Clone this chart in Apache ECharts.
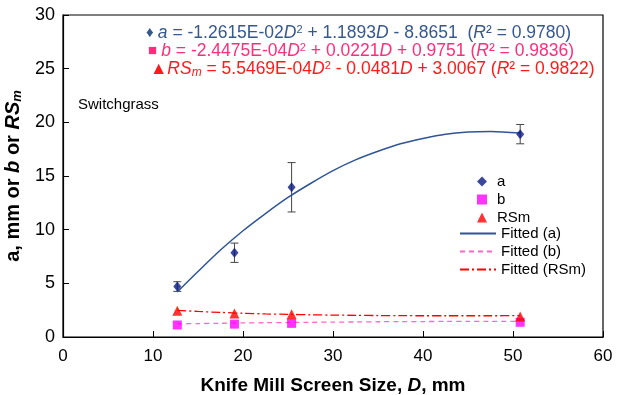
<!DOCTYPE html>
<html>
<head>
<meta charset="utf-8">
<script src="https://cdn.jsdelivr.net/npm/echarts@6/dist/echarts.min.js"></script>
<style>
  html, body { margin: 0; padding: 0; background: #fff; }
  #chart { width: 622px; height: 395px; }
</style>
</head>
<body>
<div id="chart"></div>
<script>
// screen sizes, mm
var screenD = [12.7, 19.05, 25.4, 50.8];
// measured values
var aVals = [4.7, 7.85, 13.95, 18.9];
var aErr = [0.45, 0.9, 2.3, 0.9];
var bVals = [1.12, 1.2, 1.27, 1.37];
var rsVals = [2.45, 2.2, 2.12, 1.9];

// fitted curves
var fitD = [12.7, 15, 17.5, 20, 22.5, 25, 27.5, 30, 32.5, 35, 37.5, 40, 42.5, 45, 47.5, 50.8];
var fitA = [4.2, 6.1, 8.1, 9.9, 11.5, 13.0, 14.3, 15.5, 16.5, 17.3, 18.0, 18.5, 18.9, 19.1, 19.15, 19.0];
var fitB = [1.22, 1.25, 1.28, 1.31, 1.33, 1.35, 1.37, 1.39, 1.40, 1.42, 1.43, 1.44, 1.45, 1.46, 1.46, 1.46];
var fitRS = [2.49, 2.38, 2.29, 2.21, 2.15, 2.11, 2.07, 2.04, 2.02, 2.00, 1.99, 1.98, 1.98, 1.98, 1.98, 1.99];

function pairs(xs, ys) {
  var out = [];
  for (var i = 0; i < xs.length; i++) out.push([xs[i], ys[i]]);
  return out;
}

var errData = [];
for (var i = 0; i < screenD.length; i++) {
  errData.push([screenD[i], aVals[i] - aErr[i], aVals[i] + aErr[i]]);
}

var chart = echarts.init(document.getElementById('chart'));

var eqFont = 17.5;
function eqRich(col) {
  return {
    n: { fontSize: eqFont, fill: col },
    i: { fontSize: eqFont, fill: col, fontStyle: 'italic' },
    m: { fontSize: 12, fill: col, fontStyle: 'italic', verticalAlign: 'bottom', padding: [7, 0, 0, 0] },
    s: { fontSize: 11, fill: col, verticalAlign: 'top', padding: [0, 0, 7, 0] },
    sq: { fontSize: 15, fill: col }
  };
}

var option = {
  animation: false,
  textStyle: { fontFamily: 'Liberation Sans, Arial, sans-serif' },
  grid: {
    left: 63, right: 19, top: 15, bottom: 58, outerBoundsMode: 'none', containLabel: false,
    show: true, borderColor: '#000', borderWidth: 1.2
  },
  xAxis: {
    type: 'value', min: 0, max: 60, interval: 10,
    axisLine: { lineStyle: { color: '#000', width: 1.2 } },
    axisTick: { inside: true, length: 6, lineStyle: { color: '#000' } },
    axisLabel: { color: '#000', fontSize: 17, margin: 11 },
    splitLine: { show: false },
    name: '{b|Knife Mill Screen Size, }{bi|D}{b|, mm}',
    nameLocation: 'middle', nameGap: 39,
    nameTextStyle: {
      rich: {
        b: { fontSize: 19, fontWeight: 'bold', color: '#000' },
        bi: { fontSize: 19, fontWeight: 'bold', fontStyle: 'italic', color: '#000' }
      }
    }
  },
  yAxis: {
    type: 'value', min: 0, max: 30, interval: 5,
    axisLine: { lineStyle: { color: '#000', width: 1.2 } },
    axisTick: { inside: true, length: 6, lineStyle: { color: '#000' } },
    axisLabel: { color: '#000', fontSize: 18, margin: 8 },
    splitLine: { show: false },
    name: '{b|a, mm or }{bi|b}{b| or }{bi|RS}{sub|m}',
    nameLocation: 'middle', nameGap: 38,
    nameTextStyle: {
      rich: {
        b: { fontSize: 20, fontWeight: 'bold', color: '#000' },
        bi: { fontSize: 20, fontWeight: 'bold', fontStyle: 'italic', color: '#000' },
        sub: { fontSize: 13, fontWeight: 'bold', fontStyle: 'italic', color: '#000', verticalAlign: 'bottom', padding: [9, 0, 0, 0] }
      }
    }
  },
  legend: [
    {
      orient: 'vertical', left: 472, top: 169,
      itemWidth: 10, itemHeight: 10, itemGap: 3,
      textStyle: { fontSize: 15, color: '#000', padding: [0, 0, 0, 5] },
      data: [
        { name: 'a', icon: 'diamond' },
        { name: 'b', icon: 'rect' },
        { name: 'RSm', icon: 'triangle' }
      ]
    },
    {
      orient: 'vertical', left: 454, top: 221,
      itemWidth: 36, itemHeight: 10, itemGap: 3,
      textStyle: { fontSize: 15, color: '#000' },
      data: [
        { name: 'Fitted (a)', itemStyle: { opacity: 0 } },
        { name: 'Fitted (b)', itemStyle: { opacity: 0 } },
        { name: 'Fitted (RSm)', itemStyle: { opacity: 0 } }
      ]
    }
  ],
  graphic: [
    {
      type: 'text', left: 146, top: 24,
      style: {
        text: '{sq|\u2666 }{i|a}{n| = -1.2615E-02}{i|D}{s|2}{n| + 1.1893}{i|D}{n| - 8.8651  (}{i|R}{n|\u00b2 = 0.9780)}',
        rich: eqRich('#35588f')
      }
    },
    {
      type: 'text', left: 148, top: 42,
      style: {
        text: '{sq|\u25a0 }{i|b}{n| = -2.4475E-04}{i|D}{s|2}{n| + 0.0221}{i|D}{n| + 0.9751 (}{i|R}{n|\u00b2 = 0.9836)}',
        rich: eqRich('#ff2d7a')
      }
    },
    {
      type: 'text', left: 150, top: 60,
      style: {
        text: '{n|\u25b2}{i|RS}{m|m}{n| = 5.5469E-04}{i|D}{s|2}{n| - 0.0481}{i|D}{n| + 3.0067 (}{i|R}{n|\u00b2 = 0.9822)}',
        rich: eqRich('#ff1a1a')
      }
    },
    {
      type: 'text', left: 78, top: 97,
      style: { text: 'Switchgrass', fontSize: 15, fill: '#000' }
    }
  ],
  series: [
    {
      name: 'Fitted (a)', type: 'line', data: pairs(fitD, fitA), smooth: 0.3,
      symbol: 'none', lineStyle: { color: '#2f5597', width: 1.5 }, itemStyle: { color: '#2f5597' }
    },
    {
      name: 'Fitted (b)', type: 'line', data: pairs(fitD, fitB), smooth: 0.3,
      symbol: 'none', lineStyle: { color: '#ff66cc', width: 1.3, type: [5, 4] }, itemStyle: { color: '#ff66cc' }
    },
    {
      name: 'Fitted (RSm)', type: 'line', data: pairs(fitD, fitRS), smooth: 0.3,
      symbol: 'none', lineStyle: { color: '#ff0000', width: 1.3, type: [9, 3, 2, 3] }, itemStyle: { color: '#ff0000' }
    },
    {
      type: 'custom', name: 'errA', data: errData, z: 3,
      renderItem: function (params, api) {
        var lo = api.coord([api.value(0), api.value(1)]);
        var hi = api.coord([api.value(0), api.value(2)]);
        var w = 4;
        var st = { stroke: '#444', lineWidth: 1 };
        return {
          type: 'group',
          children: [
            { type: 'line', shape: { x1: lo[0], y1: lo[1], x2: hi[0], y2: hi[1] }, style: st },
            { type: 'line', shape: { x1: lo[0] - w, y1: lo[1], x2: lo[0] + w, y2: lo[1] }, style: st },
            { type: 'line', shape: { x1: hi[0] - w, y1: hi[1], x2: hi[0] + w, y2: hi[1] }, style: st }
          ]
        };
      }
    },
    {
      name: 'a', type: 'scatter', data: pairs(screenD, aVals), z: 4,
      symbol: 'diamond', symbolSize: [8, 10], itemStyle: { color: '#0a1a80' }
    },
    {
      name: 'b', type: 'scatter', data: pairs(screenD, bVals), z: 4,
      symbol: 'rect', symbolSize: 9, itemStyle: { color: '#ff00ff' }
    },
    {
      name: 'RSm', type: 'scatter', data: pairs(screenD, rsVals), z: 4,
      symbol: 'triangle', symbolSize: 10, itemStyle: { color: '#ff0000' }
    }
  ]
};

chart.setOption(option);
</script>
</body>
</html>
